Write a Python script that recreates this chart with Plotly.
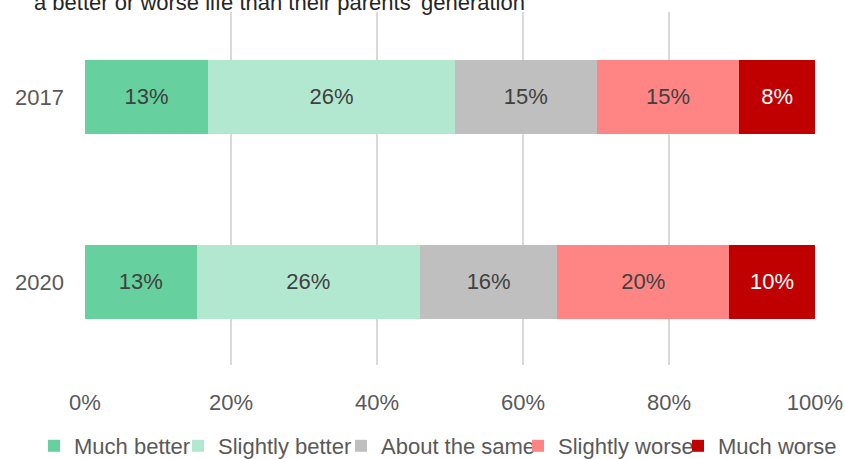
import plotly.graph_objects as go

years = ["2017", "2020"]
series_names = ["Much better", "Slightly better", "About the same", "Slightly worse", "Much worse"]
values = {
    "Much better": [13, 13],
    "Slightly better": [26, 26],
    "About the same": [15, 16],
    "Slightly worse": [15, 20],
    "Much worse": [8, 10],
}
colors = {
    "Much better": "#66D19E",
    "Slightly better": "#B3E8D0",
    "About the same": "#BFBFBF",
    "Slightly worse": "#FF8585",
    "Much worse": "#C00000",
}
text_colors = {
    "Much better": "#404040",
    "Slightly better": "#404040",
    "About the same": "#404040",
    "Slightly worse": "#404040",
    "Much worse": "#FFFFFF",
}
x_ticks = [0, 20, 40, 60, 80, 100]
x_tick_labels = ["0%", "20%", "40%", "60%", "80%", "100%"]
title_text = "a better or worse life than their parents' generation"

FONT = "Liberation Sans, Arial, sans-serif"
W, H = 845, 459

# approximate horizontal start (px) of each legend entry's text
legend_text_x = [74, 218, 381, 558, 718]
legend_ids = ["legend", "legend2", "legend3", "legend4", "legend5"]

fig = go.Figure()
for i, name in enumerate(series_names):
    fig.add_trace(go.Bar(
        name=name,
        y=years,
        x=values[name],
        orientation="h",
        marker=dict(color=colors[name], line=dict(width=0)),
        width=0.4,
        text=[f"{v}%" for v in values[name]],
        textposition="inside",
        insidetextanchor="middle",
        textangle=0,
        textfont=dict(size=22, color=text_colors[name], family=FONT),
        hoverinfo="skip",
        legend=legend_ids[i],
    ))

legend_layouts = {}
for i, lid in enumerate(legend_ids):
    legend_layouts[lid] = dict(
        orientation="h",
        xref="container", yref="container",
        x=(legend_text_x[i] - 40) / W,
        xanchor="left",
        y=(H - 446) / H,
        yanchor="middle",
        font=dict(size=22, color="#595959", family=FONT),
        itemwidth=30,
        bgcolor="rgba(0,0,0,0)",
        borderwidth=0,
    )

fig.update_layout(
    barmode="stack",
    barnorm="percent",
    width=W,
    height=H,
    margin=dict(l=85, r=30, t=12, b=94, autoexpand=False),
    paper_bgcolor="white",
    plot_bgcolor="white",
    font=dict(family=FONT, size=22, color="#595959"),
    xaxis=dict(
        range=[0, 100],
        tickvals=x_ticks,
        ticktext=x_tick_labels,
        showgrid=True,
        gridcolor="#D9D9D9",
        gridwidth=2,
        zeroline=False,
        showline=False,
        ticks="",
        ticklabelstandoff=22,
        tickfont=dict(size=22, color="#595959"),
        automargin=False,
        fixedrange=True,
    ),
    yaxis=dict(
        type="category",
        categoryorder="array",
        categoryarray=years,
        range=[1.449, -0.459],
        showgrid=False,
        zeroline=False,
        showline=False,
        ticks="",
        ticklabelstandoff=20,
        tickfont=dict(size=22, color="#595959"),
        automargin=False,
        fixedrange=True,
    ),
    showlegend=True,
    annotations=[
        dict(
            text=title_text,
            xref="paper", yref="paper",
            x=(527 - 85) / 730, xanchor="right",
            y=1.0, yanchor="bottom",
            yshift=-5,
            showarrow=False,
            font=dict(size=22, color="#262626", family=FONT),
        )
    ],
    **legend_layouts,
)

fig.write_html(
    "out.html",
    config={"displayModeBar": False},
    post_script="document.body.style.margin='0';document.body.style.overflow='hidden';",
)
